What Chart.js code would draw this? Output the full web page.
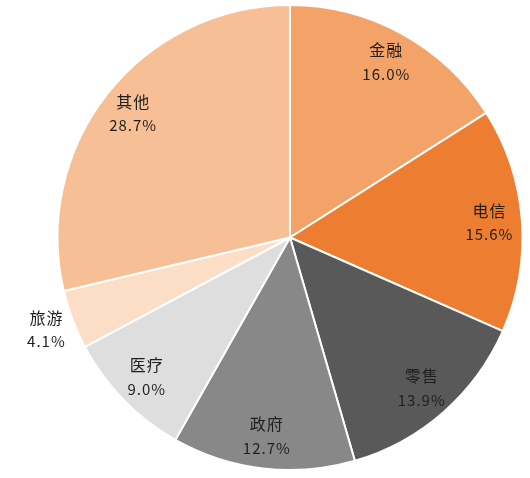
<!DOCTYPE html>
<html>
<head>
<meta charset="utf-8">
<script src="https://cdn.jsdelivr.net/npm/chart.js@4"></script>
<style>
  html, body { margin: 0; padding: 0; background: #fff; }
  #wrap { width: 530px; height: 478px; }
</style>
</head>
<body>
<div id="wrap"><canvas id="pie"></canvas></div>
<script>
// industry share, clockwise from 12 o'clock
var categories = ['金融', '电信', '零售', '政府', '医疗', '旅游', '其他'];
var shares = [16.0, 15.6, 13.9, 12.7, 9.0, 4.1, 28.7];
var sliceColors = ['#F3A268', '#ED7D31', '#595959', '#888888', '#DEDEDE', '#FCDDC6', '#F7BF95'];

// draws the two line labels (name + percent) inside each slice
var sliceLabels = {
  id: 'sliceLabels',
  afterDatasetsDraw: function(chart, args, opts) {
    var ctx = chart.ctx;
    var meta = chart.getDatasetMeta(0);
    ctx.save();
    ctx.fillStyle = '#1f1f1f';
    ctx.textAlign = 'center';
    ctx.textBaseline = 'middle';
    if ('letterSpacing' in ctx) ctx.letterSpacing = '1px';
    meta.data.forEach(function(arc, i) {
      var p = arc.getProps(['x', 'y', 'startAngle', 'endAngle', 'outerRadius'], true);
      var mid = (p.startAngle + p.endAngle) / 2;
      var f = opts.outside.indexOf(i) >= 0 ? opts.outsideRadius : opts.insideRadius;
      var r = p.outerRadius * f;
      var cx = p.x + Math.cos(mid) * r;
      var cy = p.y + Math.sin(mid) * r;
      ctx.font = '16px "Noto Sans CJK SC", "Noto Sans", sans-serif';
      ctx.fillText(chart.data.labels[i], cx, cy - 12);
      ctx.font = '15px "Noto Sans CJK SC", "Noto Sans", sans-serif';
      ctx.fillText(shares[i].toFixed(1) + '%', cx, cy + 12);
    });
    ctx.restore();
  }
};

var ctx = document.getElementById('pie');
var pieChart = new Chart(ctx, {
  type: 'pie',
  data: {
    labels: categories,
    datasets: [{
      data: shares,
      backgroundColor: sliceColors,
      borderColor: '#ffffff',
      borderWidth: 2
    }]
  },
  options: {
    responsive: true,
    maintainAspectRatio: false,
    animation: false,
    layout: { padding: { left: 56, right: 6, top: 4, bottom: 7 } },
    plugins: {
      legend: { display: false },
      tooltip: { enabled: false },
      sliceLabels: { insideRadius: 0.86, outsideRadius: 1.12, outside: [5] }
    }
  },
  plugins: [sliceLabels]
});
</script>
</body>
</html>
